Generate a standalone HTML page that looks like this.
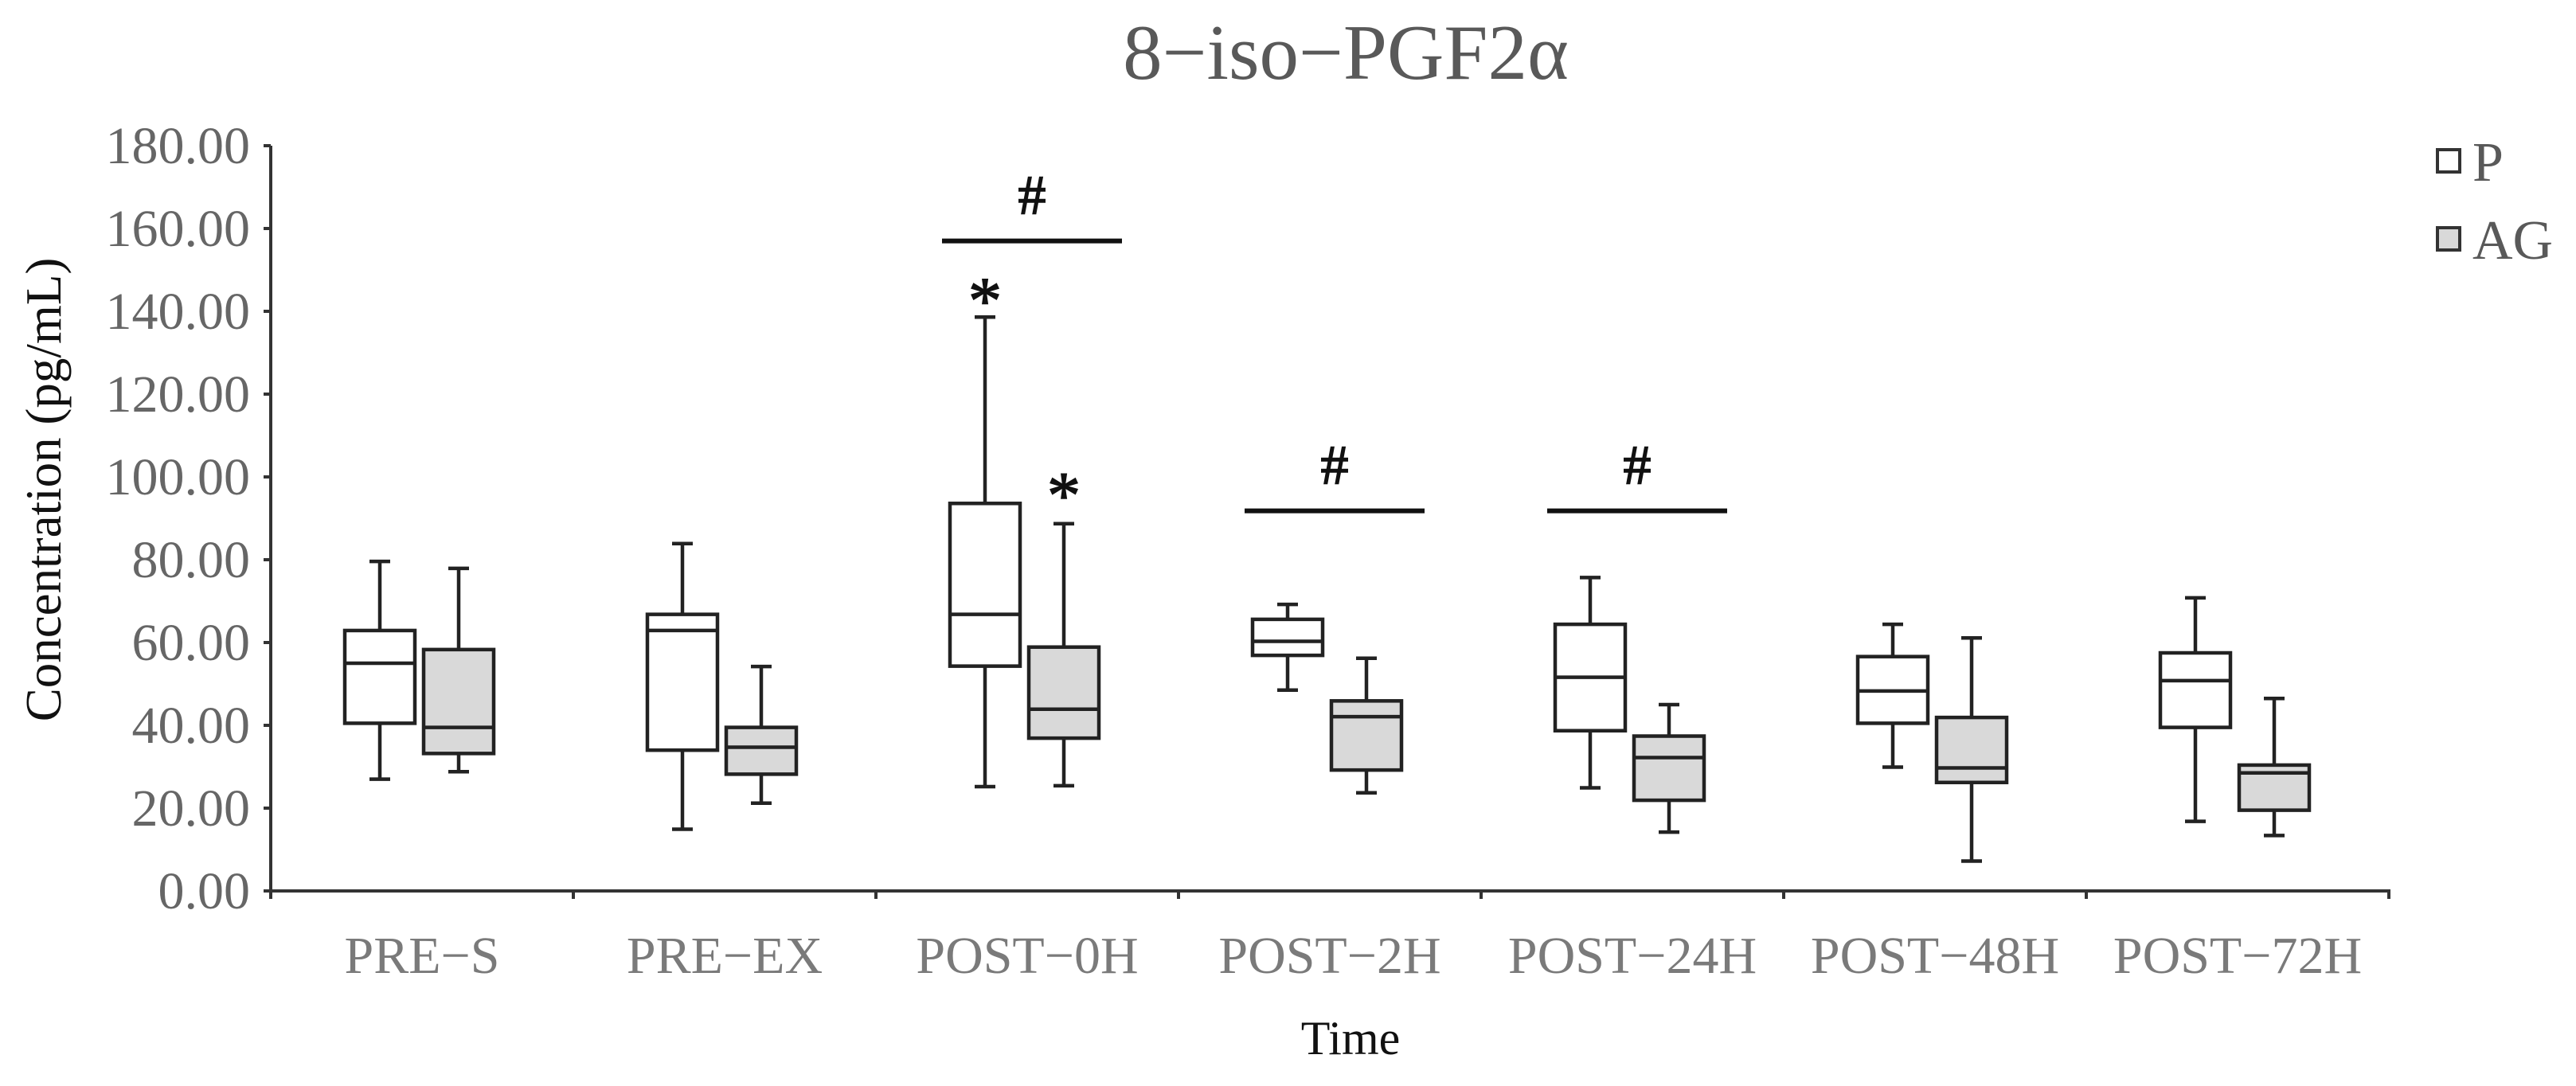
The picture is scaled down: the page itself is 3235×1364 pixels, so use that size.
<!DOCTYPE html>
<html><head><meta charset="utf-8"><style>
html,body{margin:0;padding:0;background:#fff;}
svg{display:block;font-family:"Liberation Serif",serif;}
</style></head><body>
<svg id="chart" width="3235" height="1364" viewBox="0 0 3235 1364" xmlns="http://www.w3.org/2000/svg">
<text x="1690" y="99" font-size="99" fill="#595959" text-anchor="middle">8−iso−PGF2α</text>
<g id="axes"></g>
<g id="marks"></g>
<g id="annot"></g>
<g>
<rect x="3061" y="188" width="28" height="28" fill="#fff" stroke="#333" stroke-width="4"/>
<text x="3105" y="227" font-size="70" fill="#595959">P</text>
<rect x="3061" y="286" width="28" height="28" fill="#d9d9d9" stroke="#333" stroke-width="4"/>
<text x="3105" y="325" font-size="70" fill="#595959">AG</text>
</g>
<text transform="translate(76,615) rotate(-90)" font-size="63" fill="#111" text-anchor="middle">Concentration  (pg/mL)</text>
<text x="1696" y="1324" font-size="60" fill="#111" text-anchor="middle">Time</text>
</svg>
<script>
const categories = ["PRE−S","PRE−EX","POST−0H","POST−2H","POST−24H","POST−48H","POST−72H"];
// [low whisker, q1, median, q3, high whisker]
const seriesP = [
  [27.0,40.5,55.0,62.9,79.6],
  [14.9,34.0,62.9,66.8,83.9],
  [25.2,54.3,66.8,93.6,138.6],
  [48.5,56.9,60.3,65.6,69.2],
  [24.9,38.7,51.6,64.4,75.7],
  [29.9,40.5,48.3,56.6,64.4],
  [16.8,39.5,50.8,57.5,70.8]
];
const seriesAG = [
  [28.8,33.2,39.5,58.3,77.9],
  [21.2,28.2,34.7,39.5,54.2],
  [25.4,36.9,43.9,58.9,88.7],
  [23.7,29.2,42.1,45.9,56.2],
  [14.2,21.9,32.2,37.4,45.0],
  [7.2,26.2,29.7,41.9,61.1],
  [13.4,19.5,28.5,30.4,46.5]
];
const yTicks = [0,20,40,60,80,100,120,140,160,180];
const yTickLabels = ["0.00","20.00","40.00","60.00","80.00","100.00","120.00","140.00","160.00","180.00"];
const sigCategories = [2,3,4];
const sigValues = [157.0, 91.8, 91.8];
const starP = [2]; const starPValues=[143];
const starAG = [2]; const starAGValues=[96];

const NS="http://www.w3.org/2000/svg";
const X0=340, X1=3002, Y0=1119, PXU=5.2, CW=380;
const y = v => Y0 - v*PXU;
const xc = i => X0 + CW*i + CW/2;
function mk(tag, attrs, parent){const e=document.createElementNS(NS,tag);for(const k in attrs)e.setAttribute(k,attrs[k]);parent.appendChild(e);return e;}
const axes=document.getElementById('axes'), marks=document.getElementById('marks'), annot=document.getElementById('annot');

let el=mk('line',{x1:X0,y1:y(180),x2:X0,y2:Y0+8,stroke:'#333','stroke-width':4},axes);


el=mk('line',{x1:X0-2,y1:Y0,x2:X1,y2:Y0,stroke:'#333','stroke-width':4},axes);


yTicks.forEach((v,i)=>{
  let t=mk('line',{x1:X0-9,y1:y(v),x2:X0,y2:y(v),stroke:'#333','stroke-width':4},axes);
  
  
  let l=mk('text',{x:314,y:y(v)+22,'font-size':66,fill:'#666','text-anchor':'end'},axes);
  l.textContent=yTickLabels[i];
  
  
});
for(let i=0;i<=categories.length;i++){
  let t=mk('line',{x1:X0+CW*i,y1:Y0,x2:X0+CW*i,y2:Y0+10,stroke:'#333','stroke-width':4},axes);
  
  
}
categories.forEach((c,i)=>{
  let l=mk('text',{x:xc(i),y:1222,'font-size':66,fill:'#7a7a7a','text-anchor':'middle'},axes);
  l.textContent=c;
  
  
});
function box(d,cx,fill,name){
  const g=mk('g',{},marks);
  
  
  const w=88, cap=13, s='#222';
  mk('line',{x1:cx,y1:y(d[4]),x2:cx,y2:y(d[3]),stroke:s,'stroke-width':4.5},g);
  mk('line',{x1:cx,y1:y(d[1]),x2:cx,y2:y(d[0]),stroke:s,'stroke-width':4.5},g);
  mk('line',{x1:cx-cap,y1:y(d[4]),x2:cx+cap,y2:y(d[4]),stroke:s,'stroke-width':4.5},g);
  mk('line',{x1:cx-cap,y1:y(d[0]),x2:cx+cap,y2:y(d[0]),stroke:s,'stroke-width':4.5},g);
  mk('rect',{x:cx-w/2,y:y(d[3]),width:w,height:y(d[1])-y(d[3]),fill:fill,stroke:s,'stroke-width':4.5},g);
  mk('line',{x1:cx-w/2,y1:y(d[2]),x2:cx+w/2,y2:y(d[2]),stroke:s,'stroke-width':4.5},g);
}
categories.forEach((c,i)=>{
  box(seriesP[i],xc(i)-53,'#fff','box-p-'+i);
  box(seriesAG[i],xc(i)+46,'#d9d9d9','box-ag-'+i);
});
sigCategories.forEach((ci,k)=>{
  const cx=xc(ci)+6;
  let b=mk('line',{x1:cx-113,y1:y(sigValues[k]),x2:cx+113,y2:y(sigValues[k]),stroke:'#111','stroke-width':6},annot);
  
  
  let h=mk('text',{x:cx,y:y(sigValues[k])-34,'font-size':70,fill:'#111','text-anchor':'middle','stroke':'#111','stroke-width':1.5},annot);
  h.textContent='#';
  
  
});
starP.forEach((ci,k)=>{
  let s=mk('text',{x:xc(ci)-53,y:y(starPValues[k])+30,'font-size':84,fill:'#111','text-anchor':'middle','stroke':'#111','stroke-width':1.5},annot);
  s.textContent='*';
  
  
});
starAG.forEach((ci,k)=>{
  let s=mk('text',{x:xc(ci)+46,y:y(starAGValues[k])+30,'font-size':84,fill:'#111','text-anchor':'middle','stroke':'#111','stroke-width':1.5},annot);
  s.textContent='*';
  
  
});
</script>
</body></html>
